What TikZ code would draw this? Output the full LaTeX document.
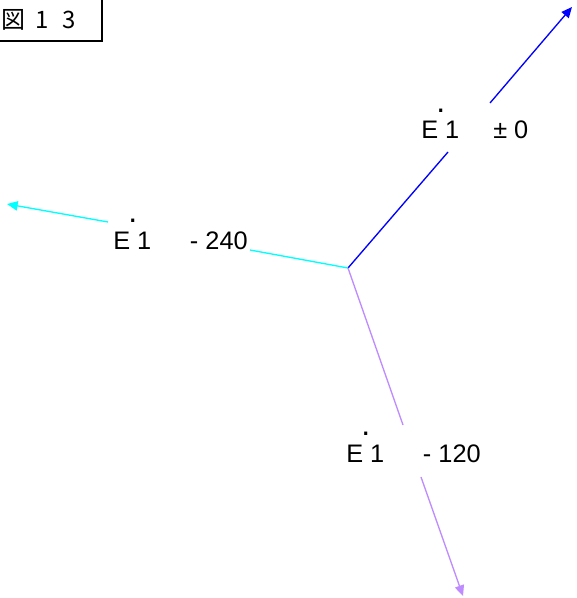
\documentclass[tikz,border=0pt]{standalone}
\usepackage{fontspec}
\setmainfont{Liberation Sans}
\newfontfamily\cjk{Noto Sans CJK JP}
\usetikzlibrary{arrows.meta}
\definecolor{vecblue}{RGB}{0,0,255}
\definecolor{veccyan}{RGB}{0,255,255}
\definecolor{veclilac}{RGB}{190,140,255}
\newcommand{\Edot}{E\rlap{\kern-0.07em\raisebox{1.05em}{\fontsize{24pt}{24pt}\selectfont.}}}
\tikzset{
  lbl/.style={anchor=base west,inner sep=0pt,font=\fontsize{19pt}{23pt}\selectfont},
  vec/.style={line width=1pt},
  tip/.style={-{Triangle[length=8pt,width=7pt]}}
}

\begin{document}
\begin{tikzpicture}[x=0.75pt,y=-0.75pt]
\clip (0,0) rectangle (576,598);
% title box
\draw[line width=0.8pt] (-5,-5) rectangle (102,41);
\node[anchor=base west,inner sep=0pt,font=\cjk\fontsize{18pt}{21pt}\selectfont] (title) at (1,29) {図\hspace{7.8pt}1\hspace{10.5pt}3};
% labels
\node[lbl] (L0) at (421,139) {\Edot{} 1\hspace{25.5pt}{\char"00B1} 0};
\node[lbl] (L240) at (113,249) {\Edot{} 1\hspace{29pt}- 240};
\node[lbl] (L120) at (346,462) {\Edot{} 1\hspace{29pt}- 120};
% vectors
\coordinate (O) at (348,268);
\coordinate (b1) at (448,152);
\coordinate (b2) at (490,103);
\coordinate (b3) at (572,7);
\coordinate (c1) at (250,250);
\coordinate (c2) at (108,222);
\coordinate (c3) at (7,204);
\coordinate (p1) at (403,425);
\coordinate (p2) at (421,477);
\coordinate (p3) at (463,596);
\draw[vec,vecblue] (O) -- (b1);
\draw[vec,vecblue,tip] (b2) -- (b3);
\draw[vec,veccyan] (O) -- (c1);
\draw[vec,veccyan,tip] (c2) -- (c3);
\draw[vec,veclilac] (O) -- (p1);
\draw[vec,veclilac,tip] (p2) -- (p3);
\end{tikzpicture}
\end{document}
